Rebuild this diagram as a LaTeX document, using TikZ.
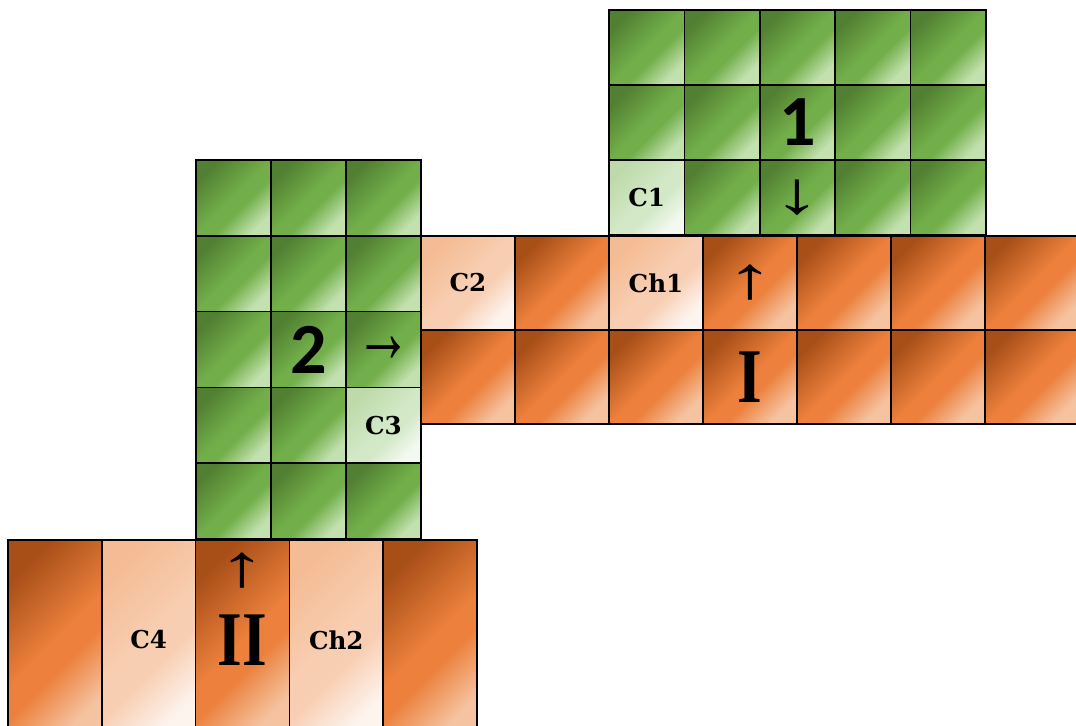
\documentclass[tikz,border=0pt]{standalone}
\usepackage{fontspec}
\usepackage{graphicx}
\usepackage{tikz}
\newfontfamily\lblfamily{DejaVu Serif}
\newfontfamily\numfamily{Carlito}
\newfontfamily\romfamily[FakeStretch=0.82]{Liberation Serif}
\newfontfamily\arrfamily{Liberation Sans}
\definecolor{orDark}{HTML}{A84F18}
\definecolor{orMid}{HTML}{EC803C}
\definecolor{orLight}{HTML}{F5C3A0}
\definecolor{peachDark}{HTML}{F4BC94}
\definecolor{peachMid}{HTML}{F8CEB2}
\definecolor{peachLight}{HTML}{FDF4EE}
\definecolor{grDark}{HTML}{528032}
\definecolor{grMid}{HTML}{72AF4A}
\definecolor{grLight}{HTML}{C3E1AF}
\definecolor{mintDark}{HTML}{BEDAAA}
\definecolor{mintMid}{HTML}{D2E8C6}
\definecolor{mintLight}{HTML}{F3F9F0}
\pgfdeclareverticalshading{orangeshade}{100bp}{color(0bp)=(orLight); color(25bp)=(orLight); color(42bp)=(orMid); color(50bp)=(orMid); color(75bp)=(orDark); color(100bp)=(orDark)}
\pgfdeclareverticalshading{peachshade}{100bp}{color(0bp)=(peachLight); color(25bp)=(peachLight); color(42bp)=(peachMid); color(50bp)=(peachMid); color(75bp)=(peachDark); color(100bp)=(peachDark)}
\pgfdeclareverticalshading{greenshade}{100bp}{color(0bp)=(grLight); color(25bp)=(grLight); color(42bp)=(grMid); color(50bp)=(grMid); color(75bp)=(grDark); color(100bp)=(grDark)}
\pgfdeclareverticalshading{mintshade}{100bp}{color(0bp)=(mintLight); color(25bp)=(mintLight); color(42bp)=(mintMid); color(50bp)=(mintMid); color(75bp)=(mintDark); color(100bp)=(mintDark)}
\newcommand{\cellname}[1]{{\lblfamily\bfseries\fontsize{14}{16}\selectfont #1}}
\newcommand{\bignum}[1]{{\numfamily\bfseries\fontsize{41}{41}\selectfont #1}}
\newcommand{\bigrom}[1]{{\romfamily\bfseries\fontsize{44}{44}\selectfont #1}}
\newcommand{\arrup}{\scalebox{1.6}[1]{\arrfamily\fontsize{34}{34}\selectfont ↑}}
\newcommand{\arrdown}{\scalebox{1.6}[1]{\arrfamily\fontsize{34}{34}\selectfont ↓}}
\newcommand{\arrright}{\scalebox{1}[1.6]{\arrfamily\fontsize{32}{32}\selectfont →}}

\begin{document}
\begin{tikzpicture}[
    x=0.02cm, y=-0.02cm,
    cell/.style={draw, line width=1pt, inner sep=0pt, shade, shading angle=45},
    orange/.style={cell, shading=orangeshade},
    peach/.style={cell, shading=peachshade},
    green/.style={cell, shading=greenshade},
    mint/.style={cell, shading=mintshade},
    bandI/.style={minimum width=1.88cm, minimum height=1.88cm},
    bandII/.style={minimum width=1.876cm, minimum height=4cm},
    gridone/.style={minimum width=1.508cm, minimum height=1.5cm},
    gridtwo/.style={minimum width=1.5cm, minimum height=1.516cm},
]
    \path[use as bounding box] (0,0) rectangle (1076,726);
    \clip (0,0) rectangle (1076,726);

    % band I
    \foreach \row [count=\r from 0] in {
        {peach/\cellname{C2}, orange/, peach/\cellname{Ch1}, orange/\arrup, orange/, orange/, orange/},
        {orange/, orange/, orange/, orange/\bigrom{I}, orange/, orange/, orange/}}
        \foreach \f/\t [count=\c from 0] in \row
            \node[\f, bandI] (bandI-\c-\r) at ({468+94*\c}, {283+94*\r}) {\t};

    % band II
    \foreach \f/\t [count=\c from 0] in {orange/, peach/\cellname{C4}, orange/\bigrom{II}, peach/\cellname{Ch2}, orange/}
        \node[\f, bandII] (bandII-\c) at ({54.9+93.8*\c}, 640) {\t};
    \node (upII) at ([yshift=-0.62cm]bandII-2.north) {\arrup};

    % grid 2
    \foreach \row [count=\r from 0] in {
        {green/, green/, green/},
        {green/, green/, green/},
        {green/, green/\bignum{2}, green/\arrright},
        {green/, green/, mint/\cellname{C3}},
        {green/, green/, green/}}
        \foreach \f/\t [count=\c from 0] in \row
            \node[\f, gridtwo] (two-\c-\r) at ({233.5+75*\c}, {197.9+75.8*\r}) {\t};

    % grid 1
    \foreach \row [count=\r from 0] in {
        {green/, green/, green/, green/, green/},
        {green/, green/, green/\bignum{1}, green/, green/},
        {mint/\cellname{C1}, green/, green/\arrdown, green/, green/}}
        \foreach \f/\t [count=\c from 0] in \row
            \node[\f, gridone] (one-\c-\r) at ({646.7+75.4*\c}, {47.5+75*\r}) {\t};
\end{tikzpicture}
\end{document}
